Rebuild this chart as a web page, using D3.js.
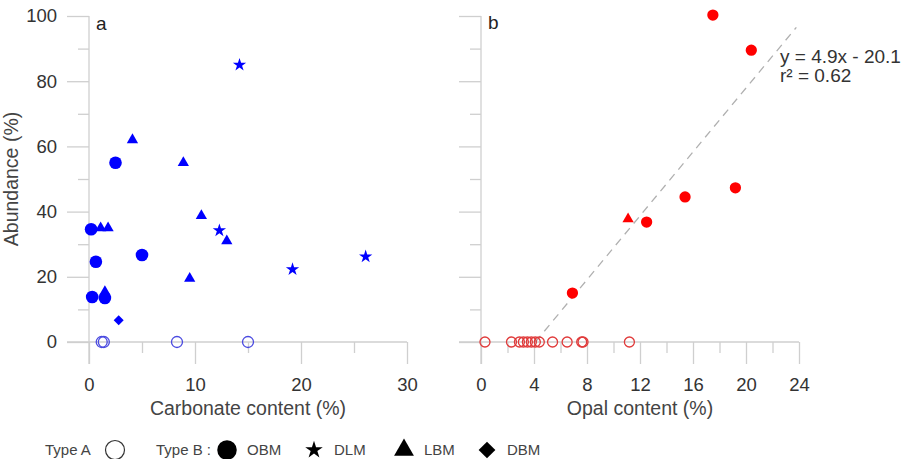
<!DOCTYPE html>
<html>
<head>
  <meta charset="utf-8">
  <script src="https://d3js.org/d3.v7.min.js"></script>
  <style>
    body {
      margin: 0;
      background: #fff;
      font-family: "Liberation Sans", Arial, sans-serif;
    }
    .axis path, .axis line { stroke: #cfcfcf; stroke-width: 1.3; }
    .axis text { fill: #333; font-size: 18.5px; font-family: "Liberation Sans", Arial, sans-serif; }
  </style>
</head>
<body>
<script>
  // Panel a : carbonate content (%) vs abundance (%)
  var carbTypeA = [1.2, 1.4, 8.3, 15.0];
  var carbOBM = [2.5, 0.2, 5.0, 0.65, 0.3, 1.5];
  var abundOBMa = [55, 34.6, 26.7, 24.6, 13.8, 13.5];
  var carbDLM = [14.2, 12.3, 26.1, 19.2];
  var abundDLMa = [85, 34.2, 26.2, 22.3];
  var carbLBM = [4.1, 8.9, 1.1, 1.8, 10.6, 13.0, 9.5, 1.5];
  var abundLBMa = [62, 55, 35, 35, 38.7, 31, 19.5, 15.4];
  var carbDBM = [2.8];
  var abundDBMa = [6.7];

  // Panel b : opal content (%) vs abundance (%)
  var opalTypeA = [0.3, 2.3, 2.9, 3.2, 3.5, 3.8, 4.1, 4.4, 5.4, 6.5, 7.6, 7.7, 11.2];
  var opalOBM = [17.5, 20.4, 19.2, 15.4, 12.5, 6.9];
  var abundOBMb = [100.3, 89.5, 47.3, 44.5, 36.8, 15.0];
  var opalLBM = [11.1];
  var abundLBMb = [37.7];
  var fitSlope = 4.9, fitIntercept = -20.1, fitR2 = 0.62;

  var yTicks = [0, 20, 40, 60, 80, 100];
  var xTicksA = [0, 10, 20, 30];
  var xTicksB = [0, 4, 8, 12, 16, 20, 24];
  var legendLabels = ["OBM", "DLM", "LBM", "DBM"];

  var w = 902, h = 459;
  var blue = "#0000ff", red = "#ff0000";

  var svg = d3.select("body").append("svg")
    .attr("width", w)
    .attr("height", h);

  var y = d3.scaleLinear().domain([0, 100]).range([342, 16]);
  var xa = d3.scaleLinear().domain([0, 30]).range([89, 407]);
  var xb = d3.scaleLinear().domain([0, 24]).range([481, 799]);

  var major = 22, minor = 11;

  function drawAxes(x, xTicks, xMinor, showY) {
    var g = svg.append("g");
    // minor y ticks
    g.append("g").attr("class", "axis")
      .attr("transform", "translate(" + x(0) + ",0)")
      .call(d3.axisLeft(y).tickValues([10, 30, 50, 70, 90]).tickSize(minor).tickFormat(""))
      .select(".domain").remove();
    var ya = g.append("g").attr("class", "axis")
      .attr("transform", "translate(" + x(0) + ",0)")
      .call(d3.axisLeft(y).tickValues(yTicks).tickSize(major).tickSizeOuter(0).tickPadding(10)
        .tickFormat(showY ? d3.format("d") : ""));
    ya.select(".domain").attr("d", "M0," + y(100) + "V" + (y(0) + major));
    // minor x ticks
    g.append("g").attr("class", "axis")
      .attr("transform", "translate(0," + y(0) + ")")
      .call(d3.axisBottom(x).tickValues(xMinor).tickSize(minor).tickFormat(""))
      .select(".domain").remove();
    var xaG = g.append("g").attr("class", "axis")
      .attr("transform", "translate(0," + y(0) + ")")
      .call(d3.axisBottom(x).tickValues(xTicks).tickSize(major).tickSizeOuter(0).tickPadding(14));
    xaG.select(".domain").attr("d", "M" + (x(0) - major) + ",0H" + x(x.domain()[1]));
    return g;
  }

  drawAxes(xa, xTicksA, [5, 15, 25], true);
  drawAxes(xb, xTicksB, [2, 6, 10, 14, 18, 22], false);

  // axis titles
  svg.append("text")
    .attr("transform", "translate(18," + ((y(0) + y(100)) / 2) + ") rotate(-90)")
    .attr("text-anchor", "middle")
    .style("font-size", "19.5px").style("fill", "#444")
    .text("Abundance (%)");
  svg.append("text")
    .attr("x", (xa(0) + xa(30)) / 2).attr("y", 415)
    .attr("text-anchor", "middle")
    .style("font-size", "19.5px").style("fill", "#444")
    .text("Carbonate content (%)");
  svg.append("text")
    .attr("x", (xb(0) + xb(24)) / 2).attr("y", 415)
    .attr("text-anchor", "middle")
    .style("font-size", "19.5px").style("fill", "#444")
    .text("Opal content (%)");

  // panel letters
  svg.append("text").attr("x", xa(0) + 7).attr("y", 30)
    .style("font-size", "19px").style("fill", "#222").text("a");
  svg.append("text").attr("x", xb(0) + 7).attr("y", 29)
    .style("font-size", "19px").style("fill", "#222").text("b");

  var sym = {
    circle: d3.symbol().type(d3.symbolCircle).size(125),
    circleSmall: d3.symbol().type(d3.symbolCircle).size(100),
    star: d3.symbol().type(d3.symbolStar).size(55),
    triangle: d3.symbol().type(d3.symbolTriangle).size(55),
    square: d3.symbol().type(d3.symbolSquare).size(50)
  };

  function plot(x, xs, ys, shape, color, rot) {
    svg.append("g").selectAll("path")
      .data(xs.map(function(d, i){ return [d, ys[i]]; }))
      .enter().append("path")
      .attr("d", shape)
      .attr("transform", function(d){
        return "translate(" + x(d[0]) + "," + y(d[1]) + ")" + (rot ? " rotate(45)" : "");
      })
      .attr("fill", color);
  }

  function openCircles(x, xs, color, r) {
    svg.append("g").selectAll("circle")
      .data(xs)
      .enter().append("circle")
      .attr("cx", function(d){ return x(d); })
      .attr("cy", y(0))
      .attr("r", r)
      .attr("fill", "none")
      .attr("stroke", color)
      .attr("stroke-width", 1.3);
  }

  // panel a
  openCircles(xa, carbTypeA, "#4a4ae0", 5.5);
  plot(xa, carbLBM, abundLBMa, sym.triangle, blue);
  plot(xa, carbOBM, abundOBMa, sym.circle, blue);
  plot(xa, carbDLM, abundDLMa, sym.star, blue);
  plot(xa, carbDBM, abundDBMa, sym.square, blue, true);

  // panel b: regression line
  var x0 = -fitIntercept / fitSlope, x1 = 23.8;
  svg.append("line")
    .attr("x1", xb(x0)).attr("y1", y(0))
    .attr("x2", xb(x1)).attr("y2", y(fitSlope * x1 + fitIntercept))
    .attr("stroke", "#b0b0b0").attr("stroke-width", 1.3)
    .attr("stroke-dasharray", "8,6");

  openCircles(xb, opalTypeA, "#e03a3a", 5);
  plot(xb, opalOBM, abundOBMb, sym.circleSmall, red);
  plot(xb, opalLBM, abundLBMb, sym.triangle, red);

  svg.append("text").attr("x", 780).attr("y", 63)
    .style("font-size", "19px").style("fill", "#333")
    .text("y = " + fitSlope + "x - " + Math.abs(fitIntercept));
  svg.append("text").attr("x", 780).attr("y", 82)
    .style("font-size", "19px").style("fill", "#333")
    .text("r\u00b2 = " + fitR2);

  // legend
  var leg = svg.append("g").style("font-size", "15px").style("fill", "#444");
  var ly = 450;
  leg.append("text").attr("x", 45).attr("y", ly + 5).text("Type A");
  leg.append("circle").attr("cx", 115).attr("cy", ly).attr("r", 9.5)
    .attr("fill", "none").attr("stroke", "#333").attr("stroke-width", 1.2);
  leg.append("text").attr("x", 156).attr("y", ly + 5).text("Type B :");
  var legShapes = [
    { s: d3.symbol().type(d3.symbolCircle).size(300), x: 227, rot: false },
    { s: d3.symbol().type(d3.symbolStar).size(95), x: 314, rot: false },
    { s: d3.symbol().type(d3.symbolTriangle).size(170), x: 404, rot: false },
    { s: d3.symbol().type(d3.symbolSquare).size(140), x: 487, rot: true }
  ];
  legShapes.forEach(function(d, i){
    leg.append("path").attr("d", d.s)
      .attr("transform", "translate(" + d.x + "," + ly + ")" + (d.rot ? " rotate(45)" : ""))
      .attr("fill", "#000");
    leg.append("text").attr("x", d.x + 20).attr("y", ly + 5).text(legendLabels[i]);
  });
</script>
</body>
</html>
